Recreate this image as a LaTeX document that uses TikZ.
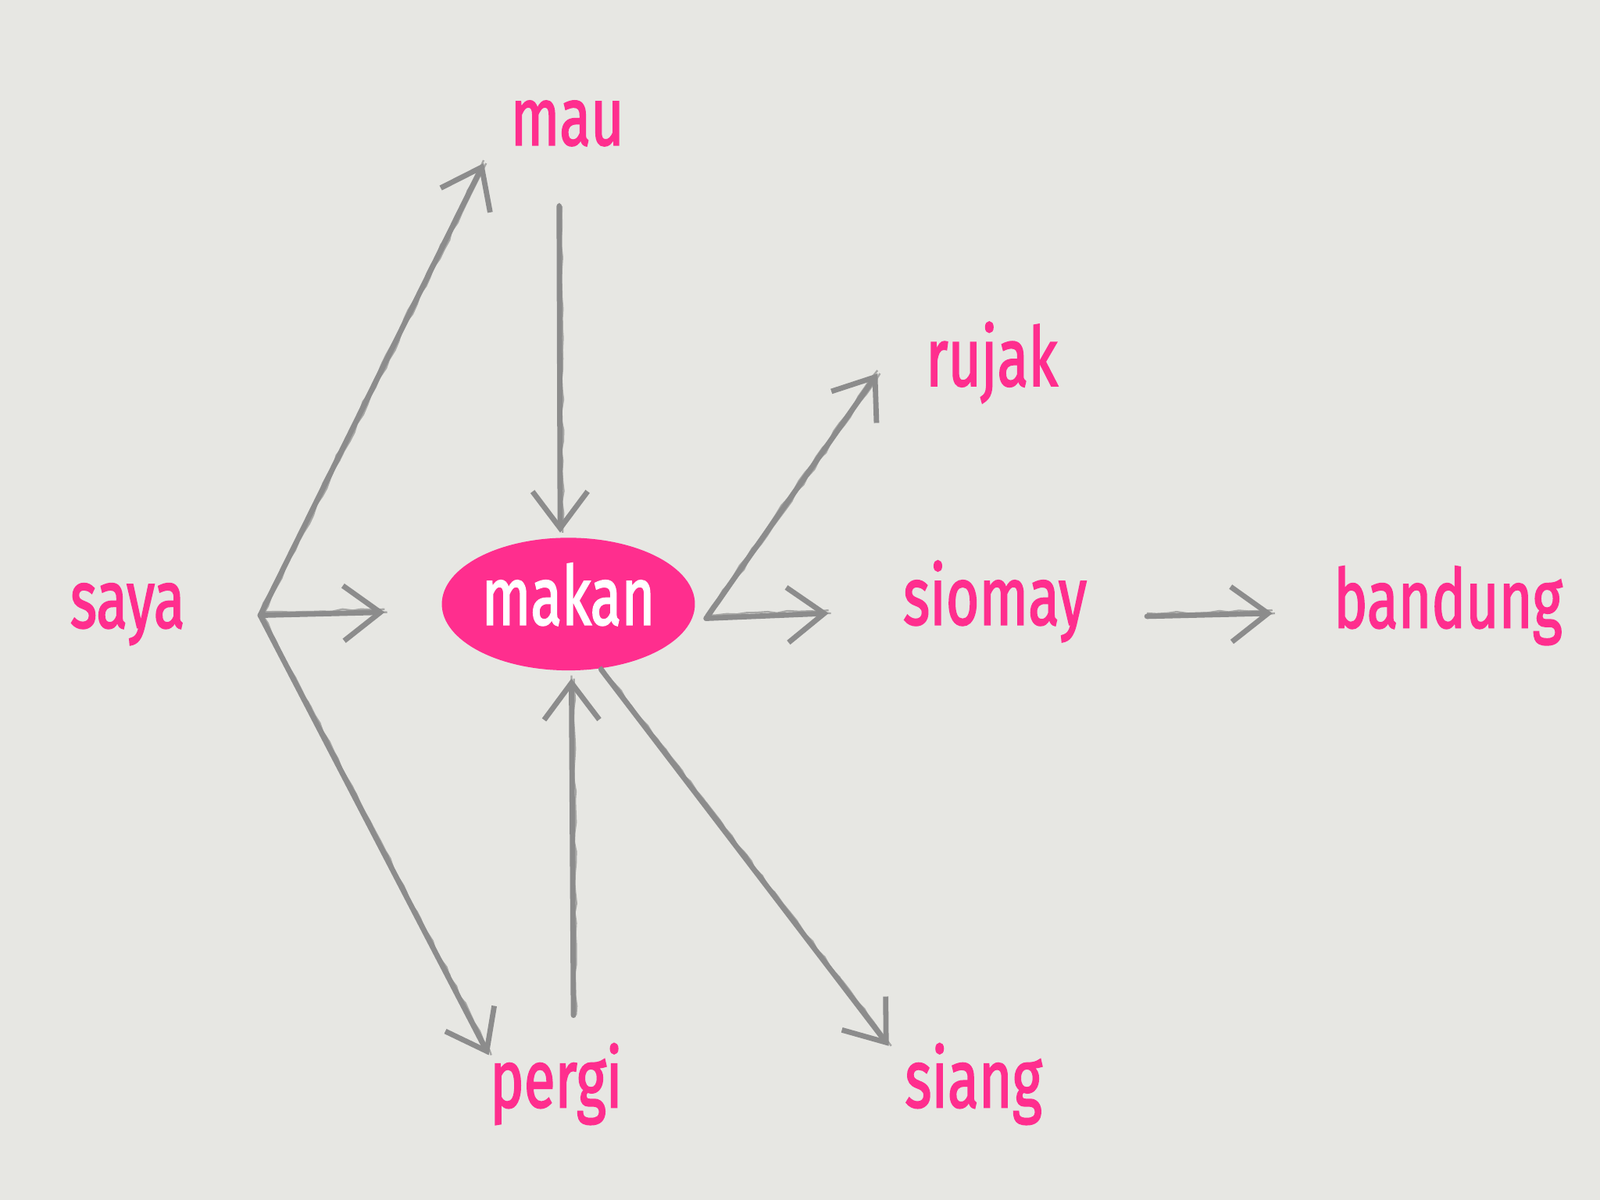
\documentclass[tikz,border=0pt]{standalone}
\usepackage{fontspec}
\usepackage{graphicx}
\setmainfont{Fira Sans}[FakeBold=2.2]
\usetikzlibrary{arrows.meta,decorations.pathmorphing,shapes.geometric}
\definecolor{bg}{HTML}{E7E7E3}
\definecolor{pinkc}{HTML}{FF2E8E}
\definecolor{pencil}{HTML}{8C8C8C}
\newcommand{\cond}[1]{\scalebox{0.70}[1]{#1}}
\tikzset{
  word/.style={text=pinkc,font=\fontsize{40}{48}\selectfont,anchor=base,inner sep=0pt},
  hub/.style={ellipse,fill=pinkc,minimum width=124pt,minimum height=65pt,inner sep=0pt},
  sketch/.style={draw=pencil,line width=2.6pt,line cap=round,
    -{Straight Barb[length=18pt,width=27pt,line width=2.6pt]}},
  rough/.style={draw=pencil,line width=0.9pt,opacity=0.7,
    decorate,decoration={random steps,segment length=5pt,amplitude=0.6pt}}
}
\begin{document}
\begin{tikzpicture}[x=0.5pt,y=-0.5pt]
\fill[bg] (0,0) rectangle (1568,1176);
\useasboundingbox (0,0) rectangle (1568,1176);
% nodes
\node[word] (mau) at (556,142) {\cond{mau}};
\node[word] (rujak) at (972,378) {\cond{rujak}};
\node[word] (saya) at (125,615) {\cond{saya}};
\node[hub] (makan) at (557,592) {};
\node[word,text=white] (makantxt) at (557,612) {\cond{makan}};
\node[word] (siomay) at (975,612) {\cond{siomay}};
\node[word] (bandung) at (1419,615) {\cond{bandung}};
\node[word] (pergi) at (545,1085) {\cond{pergi}};
\node[word] (siang) at (954,1085) {\cond{siang}};
% connector end points
\coordinate (s0) at (255,603);
\coordinate (mauin) at (474,160);
\coordinate (makW) at (377,600);
\coordinate (pergiin) at (479,1034);
\coordinate (mauout) at (548,202);
\coordinate (makN) at (549,522);
\coordinate (pergiout) at (562,995);
\coordinate (makS) at (560,665);
\coordinate (m0) at (692,606);
\coordinate (rujakin) at (860,366);
\coordinate (siomayin) at (812,601);
\coordinate (m1) at (589,656);
\coordinate (siangin) at (871,1025);
\coordinate (siomayout) at (1124,604);
\coordinate (bandungin) at (1247,601);
% connectors
\foreach \a/\b in {s0/mauin, s0/makW, s0/pergiin, mauout/makN, pergiout/makS,
                   m0/rujakin, m0/siomayin, m1/siangin, siomayout/bandungin}{
  \draw[sketch] (\a) -- (\b);
  \draw[rough] ([yshift=1.5pt]\a) -- ([yshift=1.5pt]\b);
  \draw[rough] ([xshift=1.2pt]\a) -- ([xshift=1.2pt]\b);
}
\end{tikzpicture}
\end{document}
